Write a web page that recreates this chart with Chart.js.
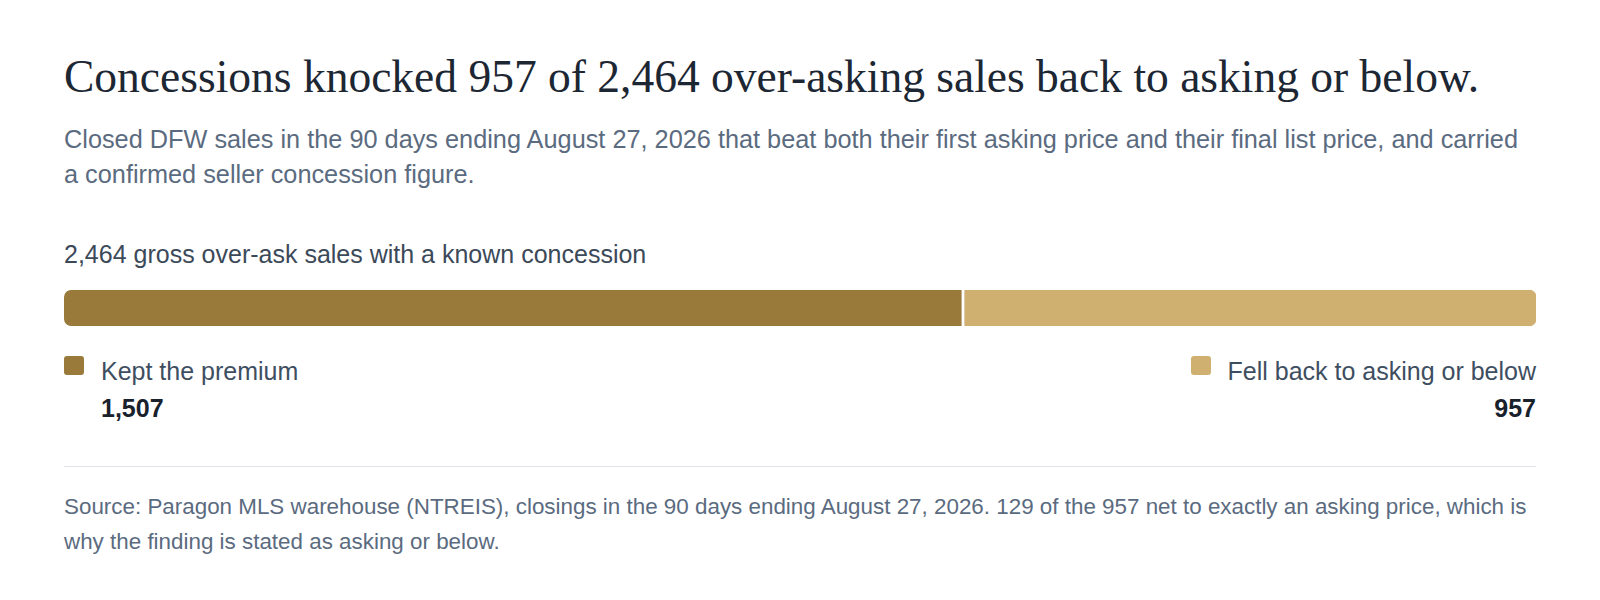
<!DOCTYPE html>
<html lang="en">
<head>
    <meta charset="UTF-8">
    <title>Concessions knocked 957 of 2,464 over-asking sales</title>
    <script src="https://cdn.jsdelivr.net/npm/chart.js"></script>
    <style>
        html, body { margin: 0; padding: 0; background: #ffffff; }
        body { width: 1600px; height: 600px; overflow: hidden; font-family: "Liberation Sans", Arial, sans-serif; }
        .wrap { position: absolute; left: 64px; top: 0; width: 1472px; height: 600px; }
        h1 { position: absolute; top: 50px; left: 0; margin: 0; font-family: "Liberation Serif", serif; font-weight: normal; font-size: 45.5px; line-height: 54px; color: #1c2733; white-space: nowrap; }
        .sub { position: absolute; top: 122px; left: 0; margin: 0; font-size: 25.3px; line-height: 35px; color: #5b6b7f; white-space: nowrap; }
        .lbl { position: absolute; top: 239px; left: 0; font-size: 25px; line-height: 30px; color: #3b4959; white-space: nowrap; }
        .bar { position: absolute; top: 290px; left: 0; width: 1472px; height: 36px; }
        .leg { position: absolute; top: 356px; font-size: 25px; color: #3e4e61; padding-left: 37px; }
        .leg .sw { position: absolute; left: 0; top: 0; width: 20px; height: 19px; border-radius: 3px; }
        .leg .nm { white-space: nowrap; line-height: 30px; margin-top: 0; }
        .leg .val { font-weight: bold; color: #18212c; line-height: 30px; margin-top: 7px; }
        hr { position: absolute; top: 466px; left: 0; width: 1472px; margin: 0; border: 0; border-top: 1.5px solid #e0e3e7; }
        .src { position: absolute; top: 489px; left: 0; margin: 0; font-size: 22.4px; line-height: 35px; color: #5b6b7f; white-space: nowrap; }
    </style>
</head>
<body>
<div class="wrap">
    <h1>Concessions knocked 957 of 2,464 over-asking sales back to asking or below.</h1>
    <p class="sub">Closed DFW sales in the 90 days ending August 27, 2026 that beat both their first asking price and their final list price, and carried<br>a confirmed seller concession figure.</p>
    <div class="lbl" id="barLabel"></div>
    <div class="bar"><canvas id="splitChart"></canvas></div>
    <div id="legend"></div>
    <hr>
    <p class="src">Source: Paragon MLS warehouse (NTREIS), closings in the 90 days ending August 27, 2026. 129 of the 957 net to exactly an asking price, which is<br>why the finding is stated as asking or below.</p>
</div>
<script>
    // datos del grafico
    const categories = ['Kept the premium', 'Fell back to asking or below'];
    const counts = [1507, 957];
    const barColors = ['#9a7a3a', '#cfb070'];

    const total = counts.reduce((a, b) => a + b, 0);
    const fmt = n => n.toLocaleString('en-US');

    document.getElementById('barLabel').textContent = fmt(total) + ' gross over-ask sales with a known concession';

    // una barra horizontal apilada por categoria
    const datasets = categories.map((name, i) => ({
        label: name,
        data: [counts[i]],
        backgroundColor: barColors[i],
        borderColor: '#ffffff',
        borderWidth: i === 0 ? {top: 0, right: 3, bottom: 0, left: 0} : 0,
        borderSkipped: false,
        borderRadius: i === 0
            ? {topLeft: 7, bottomLeft: 7, topRight: 0, bottomRight: 0}
            : {topLeft: 0, bottomLeft: 0, topRight: 7, bottomRight: 7},
        barPercentage: 1,
        categoryPercentage: 1
    }));

    new Chart(document.getElementById('splitChart'), {
        type: 'bar',
        data: { labels: ['Sales'], datasets: datasets },
        options: {
            indexAxis: 'y',
            responsive: true,
            maintainAspectRatio: false,
            animation: false,
            layout: { padding: 0 },
            plugins: { legend: { display: false }, tooltip: { enabled: false } },
            scales: {
                x: { stacked: true, display: false, min: 0, max: total },
                y: { stacked: true, display: false }
            }
        }
    });

    // leyenda: primera a la izquierda, ultima a la derecha
    const legend = document.getElementById('legend');
    categories.forEach((name, i) => {
        const box = document.createElement('div');
        box.className = 'leg';
        if (i === categories.length - 1) {
            box.style.right = '0px';
            box.style.textAlign = 'right';
        } else {
            box.style.left = '0px';
        }
        box.innerHTML = '<div class="sw"></div><div class="nm"></div><div class="val"></div>';
        box.querySelector('.sw').style.background = barColors[i];
        box.querySelector('.nm').textContent = name;
        box.querySelector('.val').textContent = fmt(counts[i]);
        legend.appendChild(box);
    });
</script>
</body>
</html>
